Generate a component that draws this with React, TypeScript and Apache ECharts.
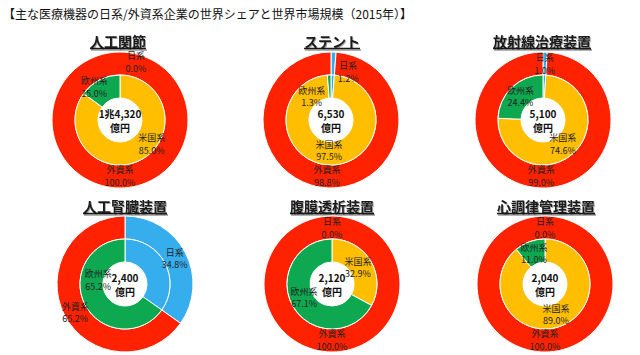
import React, { useEffect, useRef } from "react";
import * as echarts from "echarts";

// ---- data ----
const pageTitle = "【主な医療機器の日系/外資系企業の世界シェアと世界市場規模（2015年）】";
const chartTitles = ["人工関節", "ステント", "放射線治療装置", "人工腎臓装置", "腹膜透析装置", "心調律管理装置"];
const marketSizes = ["1兆4,320", "6,530", "5,100", "2,400", "2,120", "2,040"];
const marketUnit = "億円";
const outerNames = ["日系", "外資系"];
const innerNames = ["日系", "米国系", "欧州系"];
const japanShare = [0.0, 1.2, 1.0, 34.8, 0.0, 0.0];
const foreignShare = [100.0, 98.8, 99.0, 65.2, 100.0, 100.0];
const usShare = [85.0, 97.5, 74.6, 0.0, 32.9, 89.0];
const euShare = [15.0, 1.3, 24.4, 65.2, 67.1, 11.0];

// ---- layout / style ----
const FONT = "'Noto Sans CJK JP', 'Noto Sans', sans-serif";
const CENTERS: number[][] = [[120, 120], [331, 120], [543, 120], [125, 284], [332, 284], [545, 284]];
const TITLE_Y = [41, 41, 41, 206, 206, 206];
const TITLE_X = [118, 332, 542, 125, 332, 546];
const R_HOLE = 22;
const R_MID = 45;
const R_OUT = 68;
const PULL_OUT = 3.5;
const PULL_IN = 4;
const COLORS: Record<string, string> = {
  日系: "#36AEEE",
  外資系: "#FF2200",
  米国系: "#FFBE00",
  欧州系: "#0DA850",
};
const OUTER_NUDGE: Record<number, Record<number, number[]>> = {
  0: { 0: [16, -2] },
  1: { 0: [15, 8], 1: [-2, 0] },
  3: { 1: [0, 3] },
};
const INNER_NUDGE: Record<number, Record<number, number[]>> = {
  0: { 1: [17, -5], 2: [-11, -4] },
  1: { 1: [-2, -2], 2: [-18, 9] },
  2: { 1: [-2, 0] },
  3: { 2: [2, -19] },
  4: { 1: [-2, 0], 2: [0, -3] },
};

const fmt = (p: any) => `${p.name}\n${Number(p.value).toFixed(1)}%`;

function item(name: string, value: number, showLabel: boolean) {
  return {
    name,
    value,
    itemStyle: { color: COLORS[name], borderColor: "#fff", borderWidth: value === 0 ? 0 : 1 },
    label: { show: showLabel },
  };
}

// pull the library's inside label a little towards the centre, along the slice's mid angle
function makeLabelLayout(vals: number[], pull: number, nudge?: Record<number, number[]>) {
  const total = vals.reduce((a, b) => a + b, 0);
  return (p: any) => {
    const idx = p.dataIndex;
    let cum = 0;
    for (let k = 0; k < idx; k++) cum += vals[k];
    const a = ((cum + vals[idx] / 2) / total) * Math.PI * 2;
    let dx = -pull * Math.sin(a);
    let dy = pull * Math.cos(a);
    const n = nudge && nudge[idx];
    if (n) {
      dx += n[0];
      dy += n[1];
    }
    return { dx, dy };
  };
}

function buildOption() {
  const series: any[] = [];
  const graphic: any[] = [];
  const labelStyle = {
    show: true,
    position: "inside",
    formatter: fmt,
    fontSize: 9,
    lineHeight: 12.5,
    color: "#222",
    fontFamily: FONT,
  };
  chartTitles.forEach((title, i) => {
    const center = CENTERS[i];
    const outerVals = [japanShare[i], foreignShare[i]];
    const innerVals = [japanShare[i], usShare[i], euShare[i]];
    series.push({
      type: "pie",
      center,
      radius: [R_MID, R_OUT],
      startAngle: 90,
      clockwise: true,
      silent: true,
      label: labelStyle,
      labelLine: { show: false },
      labelLayout: makeLabelLayout(outerVals, PULL_OUT, OUTER_NUDGE[i]),
      emphasis: { disabled: true },
      data: outerNames.map((n, k) => item(n, outerVals[k], true)),
    });
    series.push({
      type: "pie",
      center,
      radius: [R_HOLE, R_MID],
      startAngle: 90,
      clockwise: true,
      silent: true,
      label: labelStyle,
      labelLine: { show: false },
      labelLayout: makeLabelLayout(innerVals, PULL_IN, INNER_NUDGE[i]),
      emphasis: { disabled: true },
      data: innerNames.map((n, k) => item(n, innerVals[k], k > 0 && innerVals[k] > 0)),
    });

    const tx = TITLE_X[i];
    const ty = TITLE_Y[i];
    const w = title.length * 14;
    graphic.push({
      type: "line",
      shape: { x1: tx - w / 2 + 1, y1: ty + 9, x2: tx + w / 2 + 1, y2: ty + 9 },
      style: { stroke: "#9a9a9a", lineWidth: 1.5 },
      silent: true,
    });
    graphic.push({
      type: "line",
      shape: { x1: tx - w / 2, y1: ty + 7.5, x2: tx + w / 2, y2: ty + 7.5 },
      style: { stroke: "#1a1a1a", lineWidth: 1.5 },
      silent: true,
    });
    graphic.push({
      type: "text",
      x: tx,
      y: ty,
      silent: true,
      style: {
        text: title,
        fontSize: 14,
        fontWeight: "bold",
        fontFamily: FONT,
        fill: "#1a1a1a",
        align: "center",
        verticalAlign: "middle",
        textShadowColor: "rgba(0,0,0,0.35)",
        textShadowOffsetX: 1,
        textShadowOffsetY: 1,
        textShadowBlur: 1,
      },
    });
    graphic.push({
      type: "text",
      x: center[0],
      y: center[1],
      silent: true,
      z: 10,
      style: {
        text: `${marketSizes[i]}\n${marketUnit}`,
        fontSize: 10,
        fontWeight: "bold",
        lineHeight: 14,
        fontFamily: FONT,
        fill: "#111",
        align: "center",
        verticalAlign: "middle",
      },
    });
  });
  graphic.push({
    type: "text",
    x: 3,
    y: 13,
    silent: true,
    style: {
      text: pageTitle,
      fontSize: 12,
      fontFamily: FONT,
      fill: "#111",
      align: "left",
      verticalAlign: "middle",
    },
  });
  return {
    animation: false,
    backgroundColor: "#fff",
    series,
    graphic,
  };
}

export default function App() {
  const ref = useRef<HTMLDivElement>(null);
  useEffect(() => {
    document.body.style.margin = "0";
    if (!ref.current) return;
    const chart = echarts.init(ref.current, undefined, { renderer: "svg" });
    chart.setOption(buildOption() as any);
    return () => chart.dispose();
  }, []);
  return <div ref={ref} style={{ width: 640, height: 355 }} />;
}
